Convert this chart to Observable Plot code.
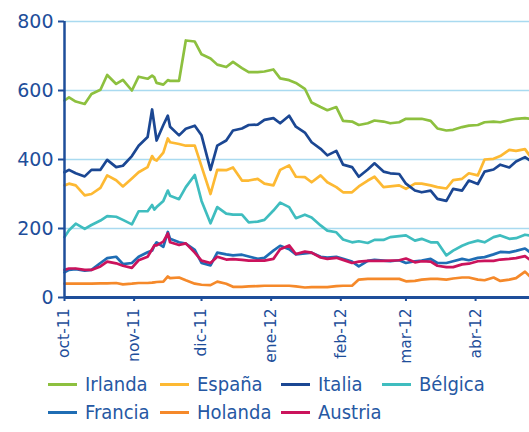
<!DOCTYPE html>
<html><head><meta charset="utf-8">
<script src="https://cdn.jsdelivr.net/npm/d3@7"></script>
<script src="https://cdn.jsdelivr.net/npm/@observablehq/plot@0.6"></script>
<style>
body{margin:0;background:#fff;}
#legend{position:relative;width:529px;height:67px;font-family:"DejaVu Sans Condensed","DejaVu Sans",sans-serif;font-size:20px;color:#2658a3;}
.item{position:absolute;height:28px;line-height:28px;white-space:nowrap;}
.sw{display:inline-block;width:29px;height:3px;vertical-align:middle;margin-right:8px;position:relative;top:-1px;}
</style></head><body>
<div id="chart"></div>
<div id="legend"></div>
<script>
const dates = ["2011-10-01","2011-10-03","2011-10-06","2011-10-10","2011-10-13","2011-10-17","2011-10-20","2011-10-24","2011-10-27","2011-10-31",
"2011-11-03","2011-11-07","2011-11-09","2011-11-10","2011-11-11","2011-11-14","2011-11-16","2011-11-17","2011-11-21","2011-11-24","2011-11-28",
"2011-12-01","2011-12-05","2011-12-08","2011-12-12","2011-12-15","2011-12-19","2011-12-22","2011-12-26","2011-12-29",
"2012-01-02","2012-01-05","2012-01-09","2012-01-12","2012-01-16","2012-01-19","2012-01-23","2012-01-26","2012-01-30",
"2012-02-02","2012-02-06","2012-02-09","2012-02-13","2012-02-16","2012-02-20","2012-02-23","2012-02-27",
"2012-03-01","2012-03-05","2012-03-08","2012-03-12","2012-03-15","2012-03-19","2012-03-22","2012-03-26","2012-03-29",
"2012-04-02","2012-04-05","2012-04-09","2012-04-12","2012-04-16","2012-04-19","2012-04-23","2012-04-25"];

const irlanda = [571,580,568,561,590,602,645,619,631,600, 640,634,643,638,622,617,630,628,628,745,742,
705,693,675,668,683,665,653,653,655, 661,635,630,622,605,565,552,543,552, 512,510,500,505,513,510,505,508,
518,518,518,512,490,484,486,494,498, 500,508,510,508,514,518,520,518];
const espana = [325,330,325,296,300,318,354,340,322,345, 363,378,410,400,397,420,461,450,445,440,440,
380,300,370,369,377,339,339,344,330, 325,370,383,350,349,334,354,334,320, 305,305,322,339,350,320,322,325,
315,330,330,325,320,316,340,344,360, 354,400,402,410,428,425,430,412];
const italia = [363,370,360,351,370,370,399,378,382,410, 440,465,545,500,455,500,527,495,470,489,498,
470,370,440,455,484,490,500,501,515, 520,505,527,495,478,450,431,412,425, 385,378,350,371,389,365,360,358,
330,310,305,310,286,280,315,310,339, 329,365,371,385,377,394,407,398];
const belgica = [175,195,214,199,210,223,236,234,225,212, 250,250,268,255,262,280,310,295,285,320,355,
280,215,262,243,240,240,218,220,225, 252,275,262,230,240,232,209,194,189, 168,160,163,158,167,167,175,178,
180,165,170,160,160,122,136,150,158, 165,160,175,180,170,172,182,180];
const francia = [73,80,82,78,80,100,114,118,97,100, 118,131,136,150,160,147,190,170,160,156,138,
100,93,130,125,122,124,119,112,115, 136,150,140,125,128,130,118,116,118, 112,104,90,106,109,107,105,108,
100,105,107,112,100,100,105,112,108, 115,117,125,132,131,135,142,132];
const holanda = [40,40,40,40,40,41,41,42,38,40, 42,42,43,44,45,46,61,56,58,50,40,
37,36,46,40,31,31,32,33,34, 34,34,34,32,29,30,30,30,33, 34,34,52,54,54,54,54,54,
47,48,52,54,54,52,55,58,58, 52,50,58,48,52,56,75,62];
const austria = [80,84,84,80,80,90,104,99,92,86, 108,118,140,151,151,162,186,160,152,157,130,
107,100,118,110,111,109,107,107,107, 112,140,151,126,133,130,116,112,115, 109,100,104,106,106,106,107,108,
113,102,105,104,92,88,88,96,98, 105,106,106,110,112,114,120,110];

const names = ["Irlanda","España","Italia","Bélgica","Francia","Holanda","Austria"];
const colors = ["#8dc03f","#fdb933","#1b4793","#3fbdbf","#1f6db4","#f5892a","#cb135c"];
const seriesValues = [irlanda, espana, italia, belgica, francia, holanda, austria];

const yTicks = [0,200,400,600,800];
const xTickDates = ["2011-10-01","2011-11-01","2011-12-01","2012-01-01","2012-02-01","2012-03-01","2012-04-01"];
const xTickLabels = ["oct-11","nov-11","dic-11","ene-12","feb-12","mar-12","abr-12"];

const rows = [];
names.forEach((n, i) => {
  seriesValues[i].forEach((v, j) => rows.push({date: new Date(dates[j]), value: v, name: n}));
});
const xTicks = xTickDates.map(d => new Date(d));
const start = new Date("2011-10-01"), end = new Date("2012-04-25");
const dark = "#1e4e9a";

const chart = Plot.plot({
  width: 529, height: 365,
  marginLeft: 64, marginRight: 0, marginTop: 21, marginBottom: 68,
  x: {type: "utc", domain: [start, end], label: null},
  y: {domain: [0, 800], label: null},
  color: {domain: names, range: colors},
  style: {fontFamily: "DejaVu Sans", color: dark, background: "#fff", overflow: "visible"},
  marks: [
    Plot.gridY([200, 400, 600, 800], {stroke: "#a9daf0", strokeOpacity: 1, strokeWidth: 1.3}),
    Plot.lineY(rows, {x: "date", y: "value", stroke: "name", strokeWidth: 2.7, strokeLinejoin: "round"}),
    Plot.axisY(yTicks, {label: null, tickSize: 6, tickPadding: 5, fontSize: 19, strokeWidth: 2}),
    Plot.axisX(xTicks, {label: null, tickSize: 4, tickPadding: 7, tickRotate: -90, fontSize: 15.5, strokeWidth: 2,
      tickFormat: d => xTickLabels[xTicks.findIndex(t => +t === +d)]}),
    Plot.ruleY([0], {strokeWidth: 3}),
    Plot.ruleX([start], {strokeWidth: 2.5})
  ]
});
document.getElementById("chart").appendChild(chart);

const legend = document.getElementById("legend");
const lefts = [48, 160, 281, 382];
names.forEach((n, i) => {
  const it = document.createElement("div");
  it.className = "item";
  it.style.left = lefts[i % 4] + "px";
  it.style.top = (5 + Math.floor(i / 4) * 28) + "px";
  const sw = document.createElement("span");
  sw.className = "sw";
  sw.style.background = colors[i];
  it.appendChild(sw);
  it.appendChild(document.createTextNode(n));
  legend.appendChild(it);
});
</script>
</body></html>
